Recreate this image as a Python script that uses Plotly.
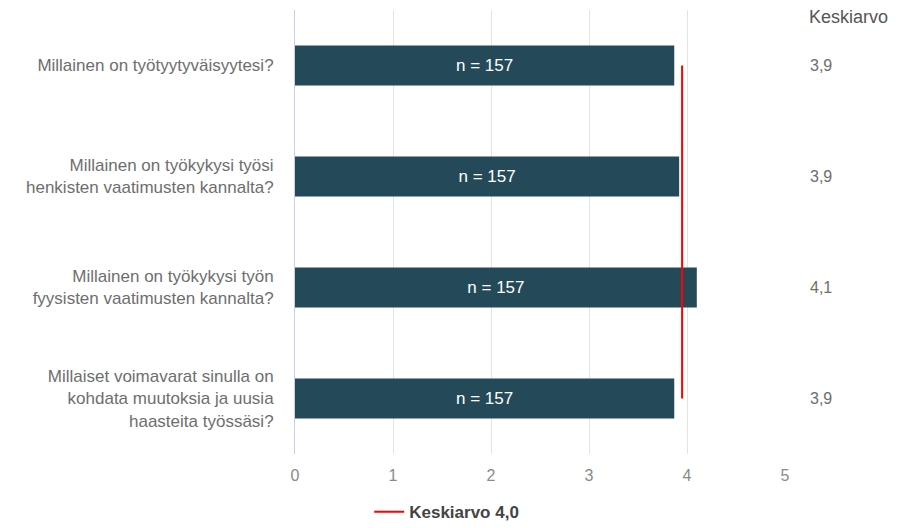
# Keskiarvot: vaakapylväät + keskiarvoviiva
import plotly.graph_objects as go

kysymykset = [
    "Millainen on työtyytyväisyytesi?",
    "Millainen on työkykysi työsi<br>henkisten vaatimusten kannalta?",
    "Millainen on työkykysi työn<br>fyysisten vaatimusten kannalta?",
    "Millaiset voimavarat sinulla on<br>kohdata muutoksia ja uusia<br>haasteita työssäsi?",
]
keskiarvot = [3.87, 3.92, 4.10, 3.87]
n_vastaajat = [157, 157, 157, 157]
kokonaiskeskiarvo = 3.95
keskiarvo_nimi = "Keskiarvo 4,0"
x_tikit = [0, 1, 2, 3, 4, 5]

fontti = "Liberation Sans, Arial, sans-serif"

fig = go.Figure()

# Pylväät
fig.add_trace(go.Bar(
    y=kysymykset,
    x=keskiarvot,
    orientation="h",
    width=0.36,
    marker=dict(color="#244a59", line=dict(width=0)),
    text=[f"n = {n}" for n in n_vastaajat],
    textposition="inside",
    insidetextanchor="middle",
    textfont=dict(color="white", size=17, family=fontti),
    showlegend=False,
    hoverinfo="x",
))

# Keskiarvoviiva
fig.add_trace(go.Scatter(
    x=[kokonaiskeskiarvo, kokonaiskeskiarvo],
    y=[kysymykset[0], kysymykset[-1]],
    mode="lines",
    line=dict(color="#ff0000", width=2),
    name="<b>" + keskiarvo_nimi + "</b>",
))

# Oikean reunan keskiarvosarake
fig.add_annotation(text="Keskiarvo", xref="paper", yref="paper", x=1.045, y=0.984,
                   xanchor="left", yanchor="middle", showarrow=False,
                   font=dict(size=18, color="#555555", family=fontti))
for k, v in zip(kysymykset, keskiarvot):
    fig.add_annotation(text=f"{v:.1f}".replace(".", ","), xref="paper", yref="y",
                       x=1.047, y=k, xanchor="left", yanchor="middle", showarrow=False,
                       font=dict(size=16, color="#6e6e6e", family=fontti))

fig.update_layout(
    width=899, height=528,
    margin=dict(l=287, r=122, t=2, b=82),
    plot_bgcolor="white", paper_bgcolor="white",
    font=dict(family=fontti, size=16, color="#6e6e6e"),
    xaxis=dict(range=[0, 5], tickvals=x_tikit, showgrid=True, gridcolor="#e3e3ea",
               gridwidth=1, zeroline=False, showline=False, ticklabelstandoff=10,
               tickfont=dict(size=16, color="#8a8a8a")),
    yaxis=dict(autorange="reversed", showgrid=False, showline=True, linecolor="#c9cfe8",
               linewidth=1, ticklabelstandoff=17, tickfont=dict(size=17, color="#6e6e6e")),
    legend=dict(orientation="h", xref="container", x=0.488, xanchor="center",
                yref="container", y=0.045, yanchor="middle",
                font=dict(size=17, color="#444444", family=fontti)),
)

fig.write_html("out.html")
